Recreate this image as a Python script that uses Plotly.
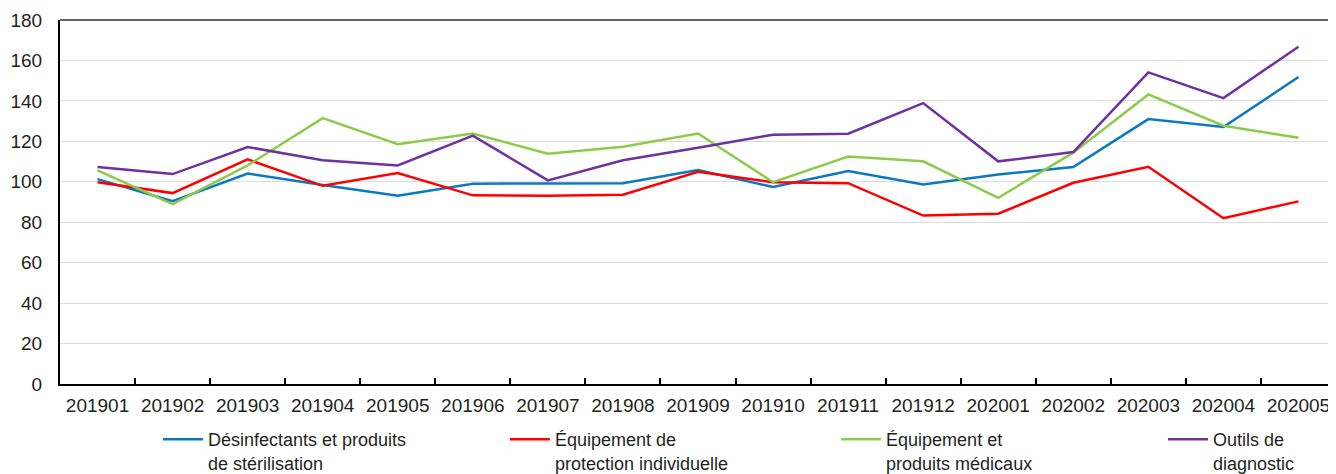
import plotly.graph_objects as go

months = ["201901", "201902", "201903", "201904", "201905", "201906", "201907", "201908", "201909",
          "201910", "201911", "201912", "202001", "202002", "202003", "202004", "202005"]

desinfectants = [101.3, 90.4, 104.1, 98.4, 93.1, 99.0, 99.2, 99.3, 105.8, 97.4, 105.3, 98.7, 103.6, 107.3, 131.0, 127.1, 151.8]
protection = [99.8, 94.4, 111.1, 98.0, 104.3, 93.3, 93.1, 93.6, 104.9, 99.8, 99.3, 83.3, 84.2, 99.5, 107.4, 82.0, 90.3]
medicaux = [105.6, 88.9, 108.1, 131.5, 118.6, 123.9, 113.9, 117.3, 123.9, 99.8, 112.5, 110.1, 92.1, 114.4, 143.2, 127.7, 121.8]
diagnostic = [107.3, 103.8, 117.2, 110.7, 108.1, 122.8, 100.7, 110.6, 116.8, 123.3, 123.8, 138.9, 110.1, 114.7, 154.1, 141.4, 166.8]

names = ["Désinfectants et produits<br>de stérilisation",
         "Équipement de<br>protection individuelle",
         "Équipement et<br>produits médicaux",
         "Outils de<br>diagnostic"]
colors = ["#0A78C2", "#FF0000", "#8CCB4A", "#7030A0"]
series = [desinfectants, protection, medicaux, diagnostic]
legend_ids = ["legend", "legend2", "legend3", "legend4"]
legend_x = [0.0768, 0.3487, 0.6082, 0.8644]

FONT = "Liberation Sans, Arial, sans-serif"
TXT = "#231F20"

fig = go.Figure()
for vals, nm, col, lid in zip(series, names, colors, legend_ids):
    fig.add_trace(go.Scatter(x=months, y=vals, name=nm, mode="lines",
                             line=dict(color=col, width=2.5), legend=lid))

layout_legends = {}
for lid, lx in zip(legend_ids, legend_x):
    layout_legends[lid] = dict(x=lx, y=-0.102, xanchor="left", yanchor="top",
                               orientation="h", valign="top",
                               font=dict(family=FONT, size=18, color=TXT),
                               bgcolor="rgba(0,0,0,0)", itemwidth=40,
                               tracegroupgap=0)

# The page body has an 8px margin, so the figure is sized to fill the window exactly.
fig.update_layout(
    width=1328, height=466,
    margin=dict(l=52, r=0, t=12, b=90, autoexpand=False),
    paper_bgcolor="white", plot_bgcolor="white",
    font=dict(family=FONT, size=19, color=TXT),
    showlegend=True,
    **layout_legends,
)

fig.update_xaxes(
    type="category", range=[-0.5, len(months) - 0.5],
    showgrid=False, showline=True, linecolor="black", linewidth=2,
    ticks="inside", tickson="boundaries", ticklen=6, tickcolor="black", tickwidth=1.5,
    tickfont=dict(family=FONT, size=19, color=TXT), zeroline=False,
    automargin=False, ticklabelstandoff=3,
)
fig.update_yaxes(
    range=[0, 180], tick0=0, dtick=20, showgrid=True, gridcolor="#DDDDDD", gridwidth=1.2,
    showline=True, linecolor="black", linewidth=2, zeroline=False, ticks="",
    ticklabelstandoff=12, tickfont=dict(family=FONT, size=19, color=TXT),
    automargin=False,
)

fig.add_shape(type="line", xref="paper", yref="paper", x0=0, x1=1, y0=1, y1=1,
              line=dict(color="#333333", width=1.5))

fig.write_html("out.html")
